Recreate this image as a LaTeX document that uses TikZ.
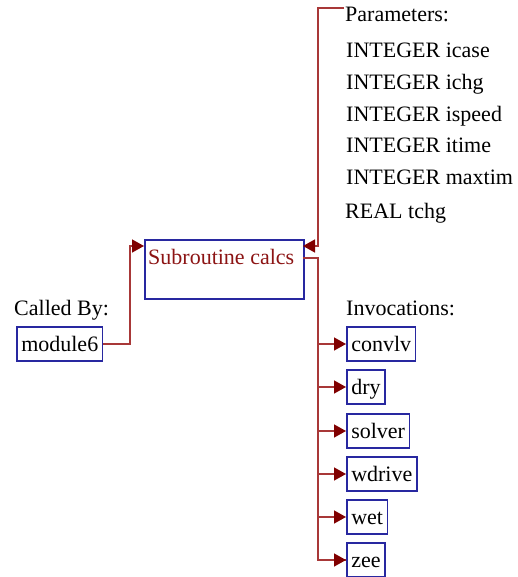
\documentclass[tikz,border=0pt]{standalone}
\usepackage{fontspec}
\setmainfont{Liberation Serif}
\usetikzlibrary{arrows.meta}
\definecolor{linecol}{HTML}{A83838}
\definecolor{arrcol}{HTML}{800000}
\definecolor{boxcol}{HTML}{2828A0}
\definecolor{maintxt}{HTML}{8C1414}
\tikzset{
  x=1pt, y=1pt,
  txt/.style={font=\fontsize{22}{26}\selectfont, inner sep=0pt, anchor=base west},
  callbox/.style={draw=boxcol, line width=1.5pt, font=\fontsize{22}{26}\selectfont,
    text height=18pt, text depth=3pt, inner xsep=4.5pt, inner ysep=6.5pt, anchor=west},
  conn/.style={draw=linecol, line width=1.5pt},
  arr/.style={conn, -{Triangle[length=12pt,width=13pt,color=arrcol]}}
}
\begin{document}
\begin{tikzpicture}
\useasboundingbox (0,0) rectangle (518,-577);
% main box
\node[draw=boxcol, line width=1.5pt, minimum width=159pt, minimum height=59pt, inner sep=0pt, anchor=north west] (main) at (144,-239) {};
\node[txt, text=maintxt] (maintext) at (148,-264) {Subroutine calcs};
% parameters
\node[txt] (params) at (345,-22) {Parameters:};
\node[txt] (p1) at (346,-58) {INTEGER icase};
\node[txt] (p2) at (346,-90) {INTEGER ichg};
\node[txt] (p3) at (346,-122) {INTEGER ispeed};
\node[txt] (p4) at (346,-153) {INTEGER itime};
\node[txt] (p5) at (346,-185) {INTEGER maxtim};
\node[txt] (p6) at (345,-218) {REAL tchg};
% called by
\node[txt] (calledby) at (14,-315) {Called By:};
\node[callbox] (module6) at (16,-344) {module6};
% invocations
\node[txt] (invoc) at (346,-315) {Invocations:};
\node[callbox] (convlv) at (346,-344) {convlv};
\node[callbox] (dry) at (346,-387) {dry};
\node[callbox] (solver) at (346,-431) {solver};
\node[callbox] (wdrive) at (346,-474) {wdrive};
\node[callbox] (wet) at (346,-517) {wet};
\node[callbox] (zee) at (346,-560) {zee};
% connectors
\coordinate (pin) at (303,-246);
\coordinate (ptop) at (318,-8);
\coordinate (pend) at (344,-8);
\draw[arr] (pend) -- (ptop) |- (pin);
\coordinate (cin) at (144,-246);
\coordinate (cturn) at (130,-246);
\draw[arr] (module6.east) -| (cturn) -- (cin);
\coordinate (mout) at (303,-258);
\coordinate (trunk) at (318,-258);
\draw[conn] (mout) -- (trunk) |- (zee.west);
\foreach \n in {convlv,dry,solver,wdrive,wet,zee}{
  \draw[arr] (trunk |- \n.west) -- (\n.west);
}
\end{tikzpicture}
\end{document}
